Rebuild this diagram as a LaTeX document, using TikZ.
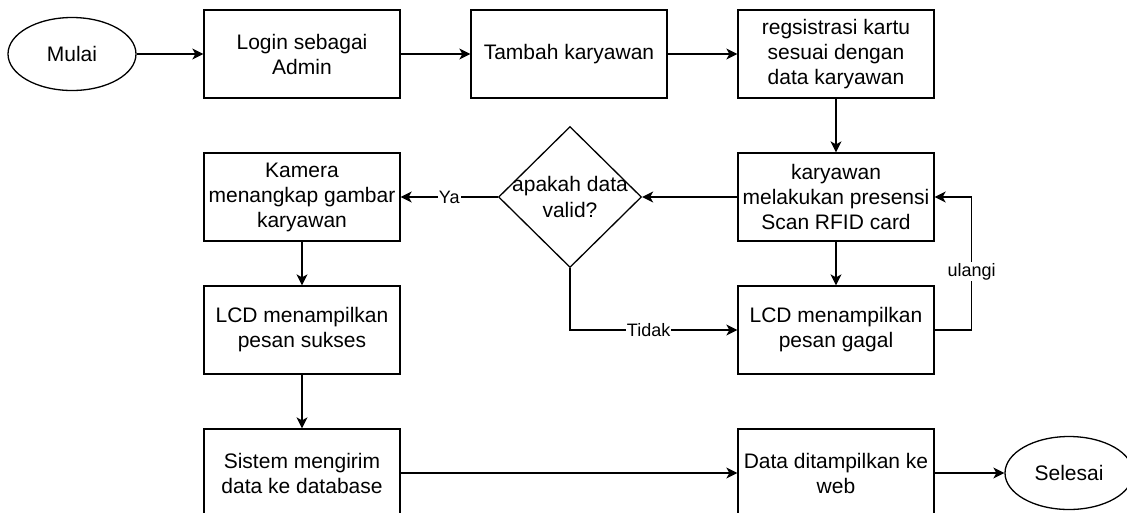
\documentclass[tikz,border=0pt]{standalone}
\usepackage{fontspec}
\setmainfont{Liberation Sans}
\usetikzlibrary{shapes.geometric,arrows.meta}
\begin{document}
\begin{tikzpicture}[x=1pt,y=-1pt,
        proses/.style={draw,line width=1.3pt,minimum width=196pt,minimum height=88pt,inner sep=0pt,align=center,font=\fontsize{21}{25}\selectfont},
        terminal/.style={draw,ellipse,line width=1.3pt,minimum width=128pt,minimum height=73pt,inner sep=0pt,font=\fontsize{21}{25}\selectfont},
        panah/.style={line width=1.3pt,-{Stealth[length=11pt,width=11pt,inset=3pt]}},
        ket/.style={fill=white,inner sep=1pt,font=\fontsize{18}{20}\selectfont}]
    \clip (0,0) rectangle (1127,512);
    \fill[white] (0,0) rectangle (1127,512);
    % baris atas
    \node[terminal] (mulai) at (72,54) {Mulai};
    \node[proses] (login) at (302,54) {Login sebagai\\Admin};
    \node[proses] (tambah) at (569,54) {Tambah karyawan};
    \node[proses] (regis) at (836,54) {regsistrasi kartu\\sesuai dengan\\data karyawan};
    % baris tengah
    \node[proses] (presensi) at (836,197) {karyawan\\melakukan presensi\\Scan RFID card};
    \node[draw,diamond,line width=1.3pt,minimum width=143pt,minimum height=141pt,inner sep=0pt,
        label={[align=center,font=\fontsize{21}{26}\selectfont]center:apakah data\\valid?}] (cek) at (570,197) {};
    \node[proses] (kamera) at (302,197) {Kamera\\menangkap gambar\\karyawan};
    \node[proses] (sukses) at (302,330) {LCD menampilkan\\pesan sukses};
    \node[proses] (gagal) at (836,330) {LCD menampilkan\\pesan gagal};
    % baris bawah
    \node[proses] (kirim) at (302,473) {Sistem mengirim\\data ke database};
    \node[proses] (web) at (836,473) {Data ditampilkan ke\\web};
    \node[terminal] (selesai) at (1069,473) {Selesai};
    % alur
    \draw[panah] (mulai) -- (login);
    \draw[panah] (login) -- (tambah);
    \draw[panah] (tambah) -- (regis);
    \draw[panah] (regis) -- (presensi);
    \draw[panah] (presensi) -- (cek);
    \draw[panah] (presensi) -- (gagal);
    \draw[panah] (cek) -- node[ket]{Ya} (kamera);
    \draw[panah] (cek.south) |- node[ket,pos=0.735]{Tidak} (gagal.west);
    \draw[panah] (gagal.east) -- ++(37,0) |- node[ket,pos=0.22]{ulangi} (presensi.east);
    \draw[panah] (kamera) -- (sukses);
    \draw[panah] (sukses) -- (kirim);
    \draw[panah] (kirim) -- (web);
    \draw[panah] (web) -- (selesai);
\end{tikzpicture}
\end{document}
